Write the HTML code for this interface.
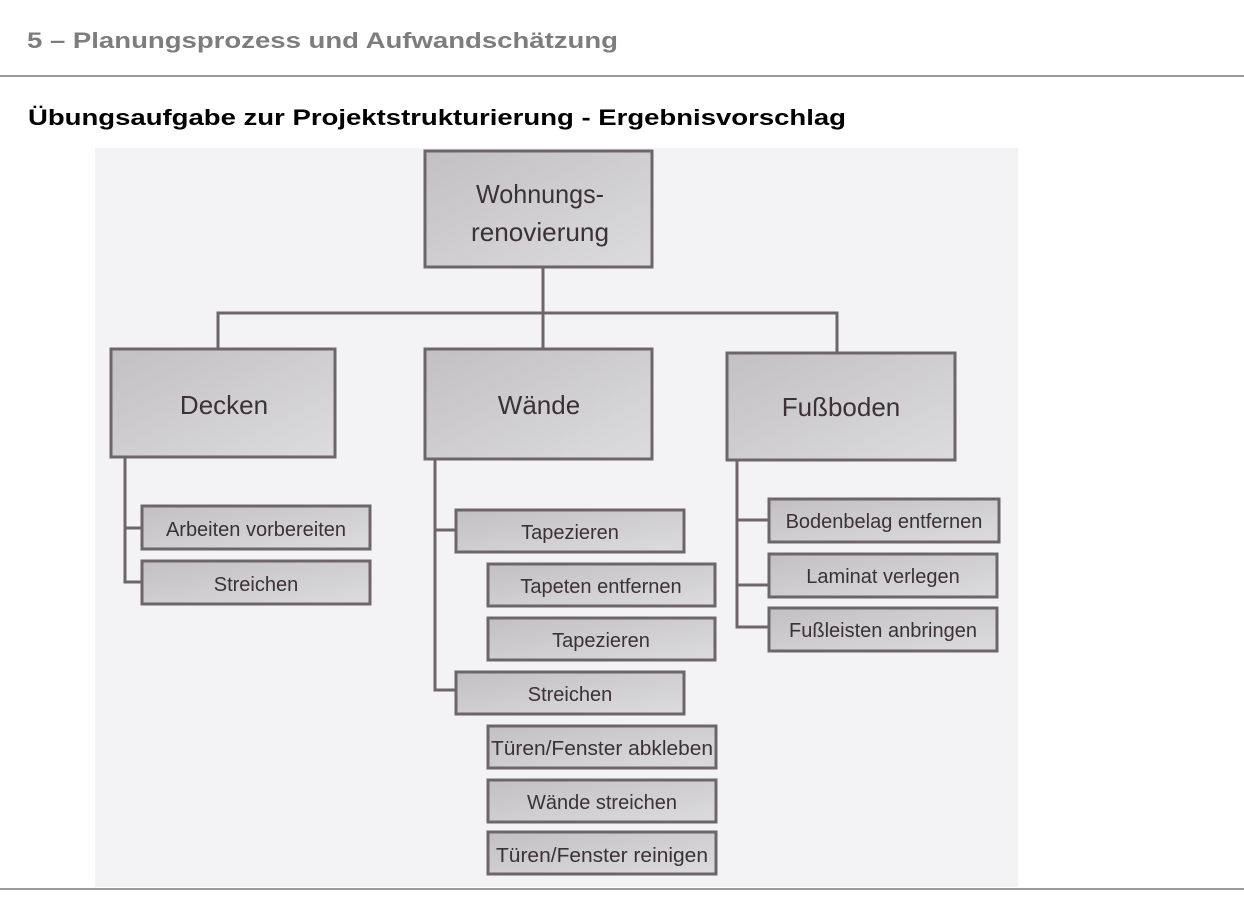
<!DOCTYPE html>
<html><head><meta charset="utf-8"><style>
html,body{margin:0;padding:0;background:#fff;width:1244px;height:897px;overflow:hidden}
svg{display:block}
</style></head><body>
<svg width="1244" height="897" xmlns="http://www.w3.org/2000/svg" font-family="Liberation Sans, Arial, sans-serif">
<defs>
<linearGradient id="g" x1="0" y1="0" x2="1" y2="1">
<stop offset="0" stop-color="#c2c0c2"/><stop offset="1" stop-color="#dcdbdd"/>
</linearGradient>
</defs>
<rect width="1244" height="897" fill="#fff"/>
<text x="27" y="48" font-size="22" font-weight="bold" fill="#7d7d7d" textLength="591" lengthAdjust="spacingAndGlyphs">5 – Planungsprozess und Aufwandschätzung</text>
<rect x="0" y="75" width="1244" height="2" fill="#9a9a9a"/>
<text x="28" y="125" font-size="22" font-weight="bold" fill="#000" textLength="818" lengthAdjust="spacingAndGlyphs">Übungsaufgabe zur Projektstrukturierung - Ergebnisvorschlag</text>
<rect x="95" y="148" width="923" height="739" fill="#f3f3f5"/>
<rect x="0" y="888" width="1244" height="2" fill="#9a9a9a"/>
<g stroke="#6e656a" stroke-width="3" fill="none">
<path d="M543 268 V350 M218 350 V313 H837 V352"/>
<path d="M125 458 V582 H142 M125 528 H142"/>
<path d="M435 460 V690 H456 M435 530 H456"/>
<path d="M737 460 V627 H768 M737 520 H768 M737 585 H768"/>
</g>
<g stroke="#6e656a" stroke-width="3" fill="url(#g)">
<rect x="425" y="151" width="227" height="116"/>
<rect x="111" y="349" width="224" height="108"/>
<rect x="425" y="349" width="227" height="110"/>
<rect x="727" y="353" width="228" height="107"/>
<rect x="142" y="506" width="228" height="43"/>
<rect x="142" y="561" width="228" height="43"/>
<rect x="456" y="510" width="228" height="42"/>
<rect x="488" y="564" width="227" height="42"/>
<rect x="488" y="618" width="227" height="42"/>
<rect x="456" y="672" width="228" height="42"/>
<rect x="488" y="726" width="228" height="42"/>
<rect x="488" y="780" width="228" height="42"/>
<rect x="488" y="832" width="228" height="42"/>
<rect x="769" y="499" width="230" height="43"/>
<rect x="769" y="554" width="228" height="43"/>
<rect x="769" y="608" width="228" height="43"/>
</g>
<g fill="#3b3136" text-anchor="middle">
<text x="540" y="203" font-size="26" textLength="128" lengthAdjust="spacingAndGlyphs">Wohnungs-</text>
<text x="540" y="241" font-size="26" textLength="138" lengthAdjust="spacingAndGlyphs">renovierung</text>
<text x="224" y="414" font-size="26">Decken</text>
<text x="539" y="414" font-size="26">Wände</text>
<text x="841" y="416" font-size="26">Fußboden</text>
<g font-size="20">
<text x="256" y="536">Arbeiten vorbereiten</text>
<text x="256" y="591">Streichen</text>
<text x="570" y="539">Tapezieren</text>
<text x="601" y="593">Tapeten entfernen</text>
<text x="601" y="647">Tapezieren</text>
<text x="570" y="701">Streichen</text>
<text x="602" y="755" textLength="222" lengthAdjust="spacingAndGlyphs">Türen/Fenster abkleben</text>
<text x="602" y="809">Wände streichen</text>
<text x="602" y="862" textLength="212" lengthAdjust="spacingAndGlyphs">Türen/Fenster reinigen</text>
<text x="884" y="528">Bodenbelag entfernen</text>
<text x="883" y="583">Laminat verlegen</text>
<text x="883" y="637">Fußleisten anbringen</text>
</g>
</g>
</svg>
</body></html>
